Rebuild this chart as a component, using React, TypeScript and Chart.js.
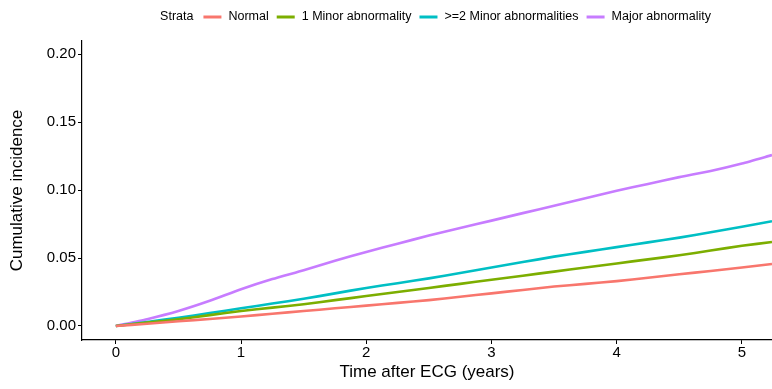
import React, { useEffect, useRef } from "react";
import { Chart, registerables } from "chart.js";

Chart.register(...registerables);

const times = [0, 0.25, 0.5, 0.75, 1, 1.25, 1.5, 1.75, 2, 2.25, 2.5, 2.75, 3, 3.25, 3.5, 3.75, 4, 4.25, 4.5, 4.75, 5, 5.24];
const normal = [0, 0.0017, 0.0035, 0.0052, 0.007, 0.009, 0.011, 0.013, 0.015, 0.017, 0.019, 0.0215, 0.024, 0.0265, 0.029, 0.031, 0.033, 0.0355, 0.038, 0.0405, 0.043, 0.0456];
const oneMinor = [0, 0.0025, 0.005, 0.008, 0.011, 0.0135, 0.016, 0.019, 0.022, 0.025, 0.028, 0.031, 0.034, 0.037, 0.040, 0.043, 0.046, 0.049, 0.052, 0.0555, 0.059, 0.0618];
const twoMinor = [0, 0.003, 0.006, 0.0095, 0.013, 0.0165, 0.020, 0.024, 0.028, 0.0315, 0.035, 0.039, 0.043, 0.047, 0.051, 0.0545, 0.058, 0.0615, 0.065, 0.069, 0.073, 0.077];
const major = [0, 0.005, 0.011, 0.0185, 0.027, 0.0345, 0.041, 0.048, 0.0545, 0.0605, 0.0665, 0.072, 0.0775, 0.083, 0.0885, 0.094, 0.0995, 0.1045, 0.1095, 0.114, 0.1195, 0.1257];

const seriesNames = ["Normal", "1 Minor abnormality", ">=2 Minor abnormalities", "Major abnormality"];
const seriesColors = ["#F8766D", "#7CAE00", "#00BFC4", "#C77CFF"];
const seriesValues = [normal, oneMinor, twoMinor, major];
const legendTitle = "Strata";

const xTicks = [0, 1, 2, 3, 4, 5];
const yTicks = [0, 0.05, 0.1, 0.15, 0.2];
const xTitle = "Time after ECG (years)";
const yTitle = "Cumulative incidence";

const FONT = "'Liberation Sans', Arial, sans-serif";

const legendPlugin = {
  id: "strataLegend",
  afterDraw(chart: any) {
    const ctx = chart.ctx as CanvasRenderingContext2D;
    ctx.save();
    ctx.font = `12.5px ${FONT}`;
    ctx.textBaseline = "middle";
    ctx.fillStyle = "#000";
    const keyLen = 18;
    const gapTitle = 10;
    const gapKey = 7;
    const gapItem = 8;
    let total = ctx.measureText(legendTitle).width + gapTitle;
    seriesNames.forEach((n, i) => {
      total += keyLen + gapKey + ctx.measureText(n).width;
      if (i < seriesNames.length - 1) total += gapItem;
    });
    const cx = 435.5;
    const y = 17;
    let x = cx - total / 2;
    ctx.textAlign = "left";
    ctx.fillText(legendTitle, x, y);
    x += ctx.measureText(legendTitle).width + gapTitle;
    seriesNames.forEach((n, i) => {
      ctx.strokeStyle = seriesColors[i];
      ctx.lineWidth = 3;
      ctx.beginPath();
      ctx.moveTo(x, y);
      ctx.lineTo(x + keyLen, y);
      ctx.stroke();
      x += keyLen + gapKey;
      ctx.fillStyle = "#000";
      ctx.fillText(n, x, y);
      x += ctx.measureText(n).width + gapItem;
    });
    ctx.restore();
  },
};

export default function App() {
  const ref = useRef<HTMLCanvasElement | null>(null);
  useEffect(() => {
    document.body.style.margin = "0";
    if (!ref.current) return;
    const chart = new Chart(ref.current, {
      type: "line",
      data: {
        datasets: seriesNames.map((name, i) => ({
          label: name,
          data: times.map((t, j) => ({ x: t, y: seriesValues[i][j] })),
          borderColor: seriesColors[i],
          backgroundColor: seriesColors[i],
          borderWidth: 2.6,
          pointRadius: 0,
          tension: 0.2,
          fill: false,
        })),
      },
      options: {
        responsive: false,
        animation: false,
        layout: { padding: { top: 41, right: 0, left: 0, bottom: 0 } },
        plugins: {
          legend: { display: false },
          tooltip: { enabled: false },
        },
        scales: {
          x: {
            type: "linear",
            min: -0.27,
            max: 5.24,
            afterBuildTicks: (s: any) => {
              s.ticks = xTicks.map((v) => ({ value: v }));
            },
            afterFit: (s: any) => {
              s.height = 49;
            },
            ticks: {
              color: "#000",
              font: { family: FONT, size: 15 },
              padding: 0,
              maxRotation: 0,
              callback: (v: any) => String(v),
            },
            grid: {
              drawOnChartArea: false,
              drawTicks: true,
              tickLength: 4,
              color: "#000",
              lineWidth: 1,
            },
            border: { display: true, color: "#000", width: 1.2 },
            title: {
              display: true,
              text: xTitle,
              color: "#000",
              font: { family: FONT, size: 17 },
              padding: { top: 6, bottom: 6 },
            },
          },
          y: {
            type: "linear",
            min: -0.0103,
            max: 0.2096,
            afterBuildTicks: (s: any) => {
              s.ticks = yTicks.map((v) => ({ value: v }));
            },
            afterFit: (s: any) => {
              s.width = 82;
            },
            ticks: {
              color: "#000",
              font: { family: FONT, size: 15 },
              padding: 2,
              callback: (v: any) => Number(v).toFixed(2),
            },
            grid: {
              drawOnChartArea: false,
              drawTicks: true,
              tickLength: 4,
              color: "#000",
              lineWidth: 1,
            },
            border: { display: true, color: "#000", width: 1.2 },
            title: {
              display: true,
              text: yTitle,
              color: "#000",
              font: { family: FONT, size: 17 },
              padding: { top: 7, bottom: 0 },
            },
          },
        },
      },
      plugins: [legendPlugin],
    });
    return () => chart.destroy();
  }, []);
  return (
    <div style={{ width: 772, height: 389 }}>
      <canvas ref={ref} width={772} height={389} style={{ display: "block" }} />
    </div>
  );
}
